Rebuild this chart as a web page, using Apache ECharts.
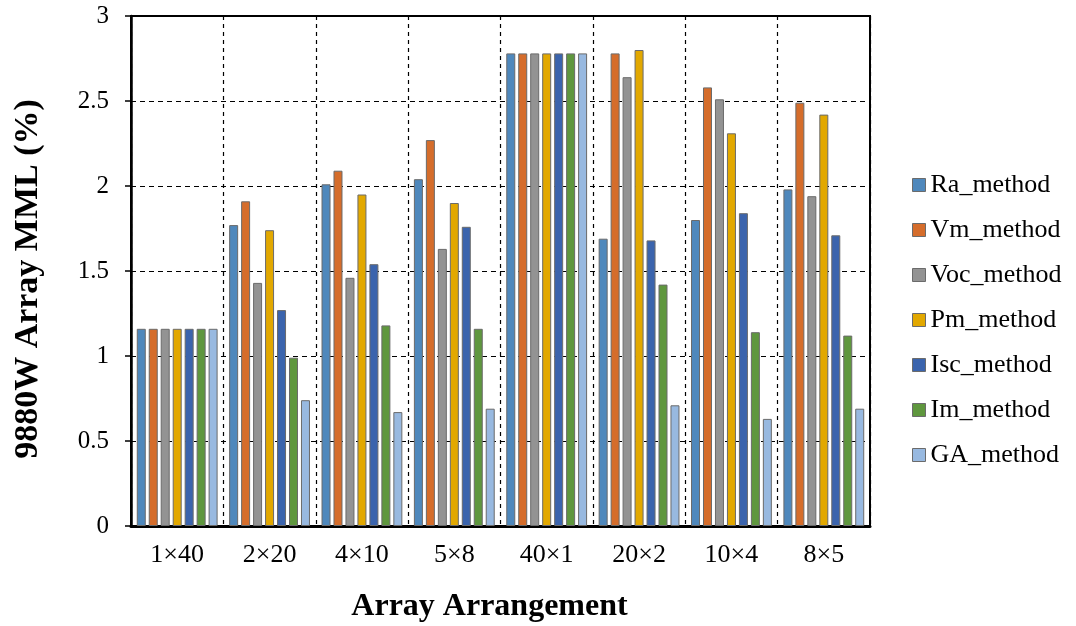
<!DOCTYPE html>
<html>
<head>
<meta charset="utf-8">
<script src="https://cdn.jsdelivr.net/npm/echarts@6/dist/echarts.min.js"></script>
<style>html,body{margin:0;padding:0;background:#fff;}#c{width:1076px;height:626px;}</style>
</head>
<body>
<div id="c"></div>
<script>
const categories = ['1×40', '2×20', '4×10', '5×8', '40×1', '20×2', '10×4', '8×5'];
const yTicks = [0, 0.5, 1, 1.5, 2, 2.5, 3];
const seriesNames = ['Ra_method', 'Vm_method', 'Voc_method', 'Pm_method', 'Isc_method', 'Im_method', 'GA_method'];
const raMethod  = [1.16, 1.77, 2.01, 2.04, 2.78, 1.69, 1.80, 1.98];
const vmMethod  = [1.16, 1.91, 2.09, 2.27, 2.78, 2.78, 2.58, 2.49];
const vocMethod = [1.16, 1.43, 1.46, 1.63, 2.78, 2.64, 2.51, 1.94];
const pmMethod  = [1.16, 1.74, 1.95, 1.90, 2.78, 2.80, 2.31, 2.42];
const iscMethod = [1.16, 1.27, 1.54, 1.76, 2.78, 1.68, 1.84, 1.71];
const imMethod  = [1.16, 0.99, 1.18, 1.16, 2.78, 1.42, 1.14, 1.12];
const gaMethod  = [1.16, 0.74, 0.67, 0.69, 2.78, 0.71, 0.63, 0.69];
const seriesValues = [raMethod, vmMethod, vocMethod, pmMethod, iscMethod, imMethod, gaMethod];
const colors = ['#4F88BC', '#D56D2B', '#939393', '#E2A800', '#3B64AD', '#5F973E', '#98B9E0'];

const font = '"Liberation Serif", "Times New Roman", serif';
const chart = echarts.init(document.getElementById('c'));
chart.setOption({
  animation: false,
  textStyle: { fontFamily: font },
  grid: { left: 131, right: 206, top: 16, bottom: 100, containLabel: false, outerBoundsMode: 'none',
          show: true, borderColor: '#000', borderWidth: 2, backgroundColor: 'transparent' },
  legend: {
    orient: 'vertical', left: 912, top: 172, padding: 0,
    icon: 'rect', itemWidth: 13, itemHeight: 13, itemGap: 19,
    itemStyle: { borderColor: '#6b6b6b', borderWidth: 1 },
    textStyle: { fontFamily: font, fontSize: 26, color: '#000', lineHeight: 26 },
    data: seriesNames
  },
  xAxis: {
    type: 'category', data: categories,
    name: 'Array Arrangement', nameLocation: 'middle', nameGap: 65,
    nameTextStyle: { fontFamily: font, fontSize: 32, fontWeight: 'bold', color: '#000', padding: [0, 22, 0, 0] },
    axisLine: { lineStyle: { color: '#000', width: 3 } },
    axisTick: { show: false },
    axisLabel: { fontFamily: font, fontSize: 26, color: '#000', margin: 16 },
    splitLine: { show: true, lineStyle: { color: '#000', type: [4, 4], width: 1.2 } }
  },
  yAxis: {
    type: 'value', min: 0, max: 3, interval: 0.5,
    name: '9880W Array MML (%)', nameLocation: 'middle', nameGap: 86,
    nameTextStyle: { fontFamily: font, fontSize: 34, fontWeight: 'bold', color: '#000', padding: [0, 16, 0, 0] },
    axisLine: { show: true, lineStyle: { color: '#000', width: 2.5 } },
    axisTick: { show: true, length: 6, lineStyle: { color: '#000', width: 1.5 } },
    axisLabel: { fontFamily: font, fontSize: 25, color: '#000', margin: 22, formatter: v => (yTicks.indexOf(v) >= 0 ? String(v) : '') },
    splitLine: { show: true, lineStyle: { color: '#000', type: [5, 4], width: 1.2 } }
  },
  series: seriesNames.map((n, i) => ({
    name: n, type: 'bar', data: seriesValues[i],
    barWidth: 9, barGap: '33%',
    itemStyle: { color: colors[i], borderColor: '#6b6b6b', borderWidth: 1 }
  }))
});
</script>
</body>
</html>
